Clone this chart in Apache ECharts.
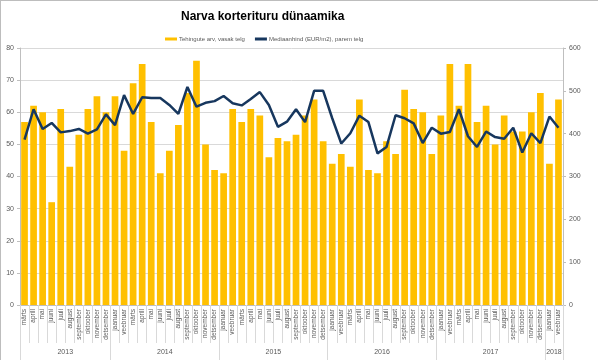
<!DOCTYPE html>
<html><head><meta charset="utf-8">
<script src="https://cdn.jsdelivr.net/npm/echarts@6/dist/echarts.min.js"></script>
<style>
html,body{margin:0;padding:0;background:#fff}
#c{position:absolute;left:0;top:0;width:598px;height:360px}
#f{position:absolute;left:0;top:0;width:598px;height:360px;box-sizing:border-box;border-left:1px solid #bdbdbd;border-top:1px solid #bdbdbd;pointer-events:none}
</style>
</head><body><div id="c"></div><div id="f"></div>
<script>
// Month category labels (märts 2013 .. veebruar 2018)
const months = [
  'märts','aprill','mai','juuni','juuli','august','september','oktoober','november','detsember',
  'jaanuar','veebruar','märts','aprill','mai','juuni','juuli','august','september','oktoober','november','detsember',
  'jaanuar','veebruar','märts','aprill','mai','juuni','juuli','august','september','oktoober','november','detsember',
  'jaanuar','veebruar','märts','aprill','mai','juuni','juuli','august','september','oktoober','november','detsember',
  'jaanuar','veebruar','märts','aprill','mai','juuni','juuli','august','september','oktoober','november','detsember',
  'jaanuar','veebruar'
];
// Year group labels, their centre position and group boundaries (in category units)
const years = ['2013','2014','2015','2016','2017','2018'];
const yearCenters = [5, 16, 28, 40, 52, 59];
const yearBounds = [0, 10, 22, 34, 46, 58, 60];

// Tehingute arv (left axis)
const deals = [
  57,62,60,32,61,43,53,61,65,60,
  65,48,69,75,57,41,48,56,66,76,50,42,
  41,61,57,61,59,46,52,51,53,59,64,51,
  44,47,43,64,42,41,51,47,67,61,60,47,
  59,75,62,75,57,62,50,59,54,54,60,66,
  44,64
];
// Mediaanhind EUR/m2 (right axis)
const price = [
  386,457,411,425,403,406,411,400,410,445,
  420,490,446,485,483,483,467,446,509,463,472,476,
  488,471,466,481,497,467,416,428,457,427,500,500,
  436,377,401,442,427,354,369,443,436,424,378,414,
  400,404,457,394,369,405,392,388,414,356,401,378,
  440,414
];
const leftTicks = {min:0, max:80, interval:10};
const rightTicks = {min:0, max:600, interval:100};

const catKeys = months.map((m,i)=> i + '|' + m);
const FONT = "'Liberation Sans',Arial,sans-serif";
const gridCol = '#D9D9D9', axisCol = '#BFBFBF', txt = '#595959';

const chart = echarts.init(document.getElementById('c'), null, {renderer:'canvas'});
chart.setOption({
  animation:false,
  backgroundColor:'#fff',
  textStyle:{fontFamily:FONT},
  title:{text:'Narva korterituru dünaamika', left:176, top:6,
    textStyle:{fontSize:12, fontWeight:'bold', color:'#000', fontFamily:FONT}},
  legend:{data:[{name:'Tehingute arv, vasak telg', icon:'rect'},{name:'Mediaanhind (EUR/m2), parem telg', icon:'rect'}],
     left:160, top:31, itemWidth:12, itemHeight:3, itemGap:10,
     textStyle:{fontSize:6, color:txt, fontFamily:FONT, padding:[0,0,0,-3]}},
  grid:{left:20, right:35, top:48, bottom:55},
  xAxis:[
    {type:'category', data:catKeys, position:'bottom',
     axisLine:{show:true, lineStyle:{color:axisCol}},
     axisTick:{show:true, interval:0, length:38, lineStyle:{color:gridCol}},
     axisLabel:{interval:0, rotate:90, fontSize:6.5, color:txt, margin:4,
       formatter:(v)=>v.split('|')[1]}},
    {type:'value', min:0, max:60, position:'bottom',
     axisLine:{show:false}, splitLine:{show:false},
     axisTick:{show:true, length:55, customValues:yearBounds, lineStyle:{color:gridCol}},
     axisLabel:{show:true, customValues:yearCenters, fontSize:7, color:txt, margin:44,
       formatter:(v)=>years[yearCenters.indexOf(v)]}}
  ],
  yAxis:[
    {type:'value', min:leftTicks.min, max:leftTicks.max, interval:leftTicks.interval,
     axisLine:{show:true, lineStyle:{color:axisCol}},
     axisTick:{show:true, length:3, lineStyle:{color:axisCol}},
     axisLabel:{fontSize:7, color:txt, margin:6},
     splitLine:{lineStyle:{color:gridCol}}},
    {type:'value', min:rightTicks.min, max:rightTicks.max, interval:rightTicks.interval, position:'right',
     axisLine:{show:true, lineStyle:{color:axisCol}},
     axisTick:{show:true, length:3, lineStyle:{color:axisCol}},
     axisLabel:{fontSize:7, color:txt, margin:6},
     splitLine:{show:false}}
  ],
  series:[
    {name:'Tehingute arv, vasak telg', type:'bar', xAxisIndex:0, yAxisIndex:0, data:deals,
     barCategoryGap:'26%', itemStyle:{color:'#FFC000'}},
    {name:'Mediaanhind (EUR/m2), parem telg', type:'line', xAxisIndex:0, yAxisIndex:1, data:price,
     symbol:'none', lineStyle:{width:2.5, color:'#17375E'}, itemStyle:{color:'#17375E'}}
  ]
});
</script>
</body></html>
